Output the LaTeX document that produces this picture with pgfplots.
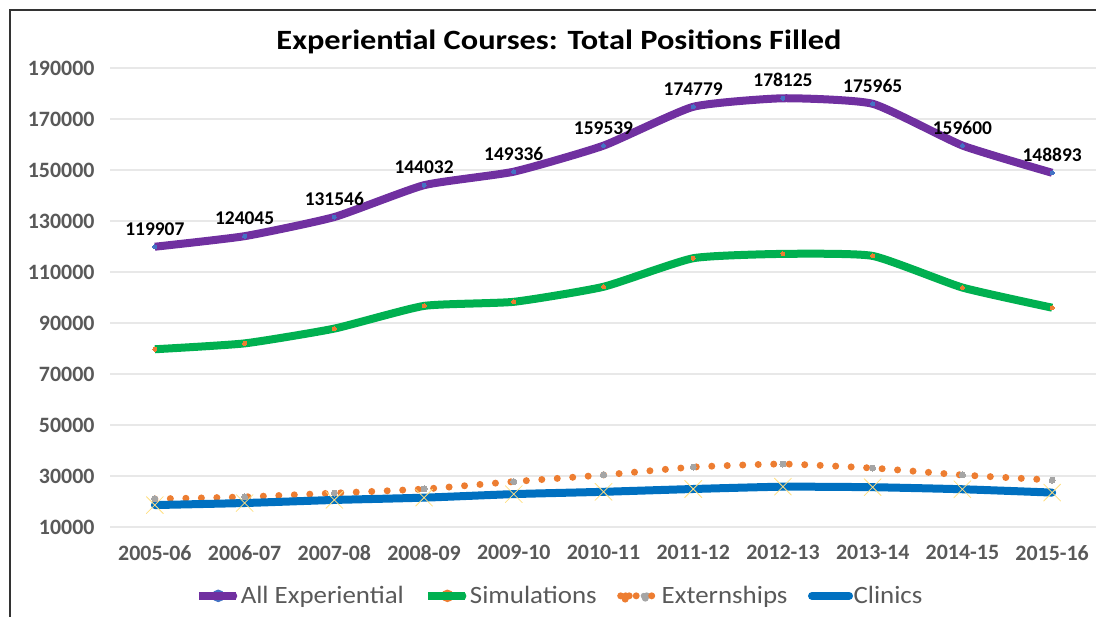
\documentclass[border=0pt]{standalone}
\usepackage{fontspec}
\setmainfont{Carlito}
\newfontfamily\titlefont{Carlito}[FakeStretch=1.16]
\newfontfamily\legendfont{Carlito}[FakeStretch=1.08]
\usepackage{pgfplots}
\pgfplotsset{compat=1.18}
\definecolor{cpurple}{HTML}{7030A0}
\definecolor{cgreen}{HTML}{00B050}
\definecolor{corange}{HTML}{ED7D31}
\definecolor{cblue}{HTML}{0070C0}
\definecolor{cgrey}{HTML}{A5A5A5}
\definecolor{cyellow}{HTML}{FFC000}
\definecolor{cmark}{HTML}{4472C4}
\definecolor{ctext}{HTML}{595959}
\begin{document}
\begin{tikzpicture}[x=1bp,y=1bp]
\useasboundingbox (0,0) rectangle (1096,617);
\draw[line width=2.5bp, black!80] (10,0) -- (10,607) -- (1096,607);
\begin{axis}[at={(110bp,90bp)}, anchor=south west, scale only axis,
  width=987bp, height=459bp,
  xmin=-0.5, xmax=10.5, ymin=10000, ymax=190000,
  ytick={10000,30000,...,190000},
  xtick={0,...,10},
  xticklabels={2005-06,2006-07,2007-08,2008-09,2009-10,2010-11,2011-12,2012-13,2013-14,2014-15,2015-16},
  axis line style={draw=none}, tick style={draw=none},
  ymajorgrids, grid style={line width=1.2bp, color=black!9},
  scaled y ticks=false,
  /pgf/number format/assume math mode=true,
  /pgf/number format/fixed, /pgf/number format/1000 sep={},
  ticklabel style={font=\fontsize{22}{26}\selectfont\bfseries, text=ctext},
  yticklabel style={xshift=-12bp},
  xticklabel style={yshift=-15bp},
  legend columns=4,
  legend style={at={(0.455,-0.15)}, anchor=center, draw=none, fill=none,
    font=\legendfont\fontsize{25}{30}\selectfont, text=ctext,
    nodes={inner sep=0.5bp},
    /tikz/every odd column/.append style={column sep=0bp},
    /tikz/every even column/.append style={column sep=20bp},
    inner sep=0pt},
  legend cell align=left,
]
\addplot[cpurple, line width=8bp, smooth, tension=0.3,
  mark=*, mark size=2bp, mark options={fill=cmark, draw=cmark, line width=0bp},
  nodes near coords, nodes near coords style={font=\fontsize{19.5}{23}\selectfont\bfseries, text=black, anchor=south, yshift=8bp},
  legend image code/.code={\draw[cpurple, line width=8bp, line cap=round] (4bp,0bp) -- (34bp,0bp); \fill[cmark] (19bp,0bp) circle (2bp); \path (0bp,0bp) -- (37bp,0bp);}]
coordinates {(0,119907) (1,124045) (2,131546) (3,144032) (4,149336) (5,159539) (6,174779) (7,178125) (8,175965) (9,159600) (10,148893)};
\addlegendentry{All Experiential}
\addplot[cgreen, line width=8bp, smooth, tension=0.3,
  mark=*, mark size=2bp, mark options={fill=corange, draw=corange, line width=0bp},
  legend image code/.code={\draw[cgreen, line width=8bp, line cap=round] (4bp,0bp) -- (34bp,0bp); \fill[corange] (19bp,0bp) circle (2bp); \path (0bp,0bp) -- (37bp,0bp);}]
coordinates {(0,79700) (1,82000) (2,87800) (3,96700) (4,98300) (5,104200) (6,115400) (7,117100) (8,116300) (9,103900) (10,96000)};
\addlegendentry{Simulations}
\addplot[corange, line width=7bp, smooth, tension=0.3, line cap=round, dash pattern=on 0bp off 15.5bp,
  mark=*, mark size=3bp, mark options={fill=cgrey, draw=cgrey, solid, line width=0bp},
  legend image code/.code={\fill[corange] (5bp,0bp) circle (3.5bp); \fill[cgrey] (23bp,0bp) circle (3bp); \path (0bp,0bp) -- (37bp,0bp);}]
coordinates {(0,21000) (1,21800) (2,23300) (3,24900) (4,27800) (5,30400) (6,33500) (7,34700) (8,33100) (9,30400) (10,28400)};
\addlegendentry{Externships}
\addplot[cblue, line width=8bp, smooth, tension=0.3, line cap=round,
  mark=x, mark size=12bp, mark options={draw=cyellow!50, line width=0.8bp},
  legend image code/.code={\draw[cblue, line width=8bp, line cap=round] (4bp,0bp) -- (34bp,0bp); \path (0bp,0bp) -- (37bp,0bp);}]
coordinates {(0,18600) (1,19400) (2,20600) (3,21500) (4,22900) (5,23800) (6,24900) (7,25800) (8,25600) (9,24800) (10,23500)};
\addlegendentry{Clinics}
\end{axis}
\node[font=\titlefont\fontsize{28}{33}\selectfont\bfseries, text=black] at (559,575) {Experiential Courses: Total Positions Filled};
\end{tikzpicture}
\end{document}
